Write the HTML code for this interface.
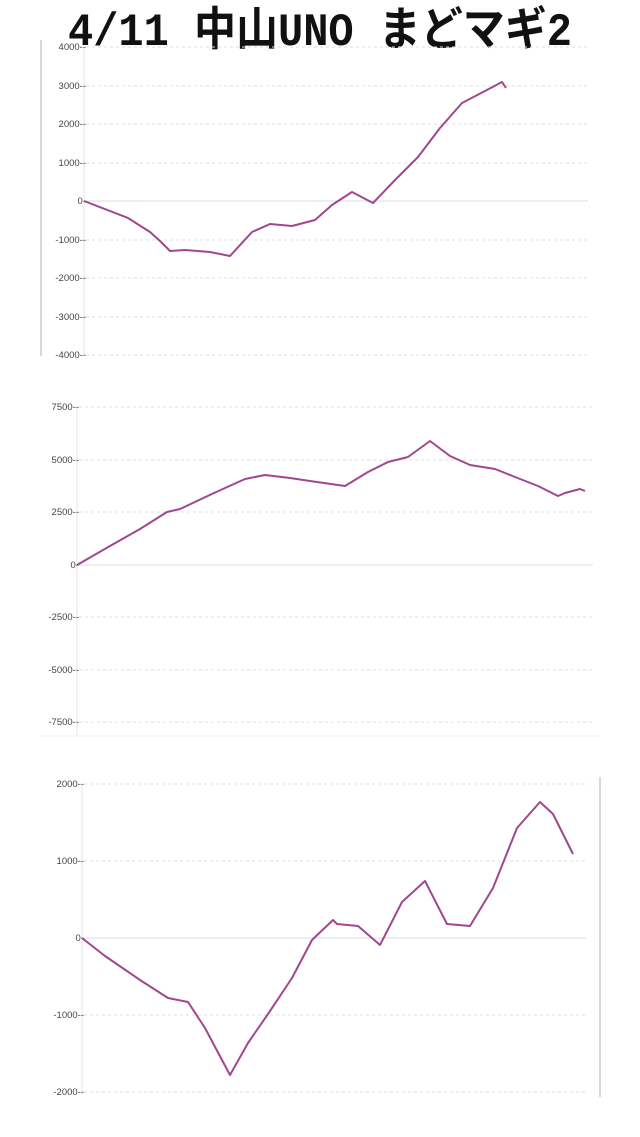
<!DOCTYPE html>
<html><head><meta charset="utf-8"><style>
body{margin:0;background:#fff;width:640px;height:1137px;overflow:hidden}
svg{display:block}
.l{font-family:"Liberation Sans",sans-serif;font-size:9.5px;fill:#444;text-anchor:end}
.g{stroke:#ddd;stroke-width:1;stroke-dasharray:3,3}
.z{stroke:#e4e4e4;stroke-width:1.2}
.s{fill:none;stroke:#a0478f;stroke-width:2;stroke-linejoin:round}
</style></head><body>
<svg width="640" height="1137" xmlns="http://www.w3.org/2000/svg">
<text x="68" y="45" textLength="504" lengthAdjust="spacingAndGlyphs" style="font-family:'Liberation Mono','Noto Sans CJK JP',monospace;font-size:46px;font-weight:bold;fill:#111">4/11 中山UNO まどマギ2</text>

<!-- Chart 1 -->
<line x1="41" y1="40" x2="41" y2="356" stroke="#ccc" stroke-width="1.5"/>
<line x1="84" y1="47" x2="84" y2="356" stroke="#e4e4e4"/>
<g class="g">
<line x1="86" y1="47" x2="588" y2="47"/><line x1="86" y1="86" x2="588" y2="86"/>
<line x1="86" y1="124" x2="588" y2="124"/><line x1="86" y1="163" x2="588" y2="163"/>
<line x1="86" y1="240" x2="588" y2="240"/><line x1="86" y1="278" x2="588" y2="278"/>
<line x1="86" y1="317" x2="588" y2="317"/><line x1="86" y1="355" x2="588" y2="355"/>
</g>
<line class="z" x1="84" y1="201" x2="588" y2="201"/>
<g class="l">
<text x="86" y="50">4000--</text><text x="86" y="89">3000--</text><text x="86" y="127">2000--</text><text x="86" y="166">1000--</text><text x="86" y="204">0-</text><text x="86" y="243">-1000--</text><text x="86" y="281">-2000--</text><text x="86" y="320">-3000--</text><text x="86" y="358">-4000--</text>
</g>
<polyline class="s" points="84,201 128,218 150,232 160,241 170,251 185,250 210,252 230,256 252,232 270,224 292,226 315,220 332,205 352,192 373,203 395,180 418,157 440,128 462,103 485,91 502,82 506,88"/>

<!-- Chart 2 -->
<line x1="77" y1="407" x2="77" y2="735" stroke="#e4e4e4"/>
<line x1="40" y1="736" x2="598" y2="736" stroke="#eee"/>
<g class="g">
<line x1="79" y1="407" x2="593" y2="407"/><line x1="79" y1="460" x2="593" y2="460"/>
<line x1="79" y1="512" x2="593" y2="512"/><line x1="79" y1="617" x2="593" y2="617"/>
<line x1="79" y1="670" x2="593" y2="670"/><line x1="79" y1="722" x2="593" y2="722"/>
</g>
<line class="z" x1="77" y1="565" x2="593" y2="565"/>
<g class="l">
<text x="79" y="410">7500--</text><text x="79" y="463">5000--</text><text x="79" y="515">2500--</text><text x="79" y="568">0-</text><text x="79" y="620">-2500--</text><text x="79" y="673">-5000--</text><text x="79" y="725">-7500--</text>
</g>
<polyline class="s" points="77,565 110,546 140,529 167,512 180,509 214,493 245,479 265,475 290,478 310,481 345,486 368,472 388,462 408,457 430,441 450,456 470,465 495,469 515,477 538,486 558,496 565,493 580,489 585,491"/>

<!-- Chart 3 -->
<line x1="82" y1="784" x2="82" y2="1095" stroke="#e4e4e4"/>
<line x1="600" y1="777" x2="600" y2="1097" stroke="#ccc" stroke-width="1.5"/>
<g class="g">
<line x1="84" y1="784" x2="586" y2="784"/><line x1="84" y1="861" x2="586" y2="861"/>
<line x1="84" y1="1015" x2="586" y2="1015"/><line x1="84" y1="1092" x2="586" y2="1092"/>
</g>
<line class="z" x1="82" y1="938" x2="586" y2="938"/>
<g class="l">
<text x="84" y="787">2000--</text><text x="84" y="864">1000--</text><text x="84" y="941">0-</text><text x="84" y="1018">-1000--</text><text x="84" y="1095">-2000--</text>
</g>
<polyline class="s" points="82,938 105,956 140,980 168,998 188,1002 205,1028 230,1075 248,1043 268,1014 292,978 312,940 333,920 337,924 358,926 380,945 402,902 425,881 447,924 470,926 493,888 517,828 540,802 553,814 573,854"/>
</svg>
</body></html>
